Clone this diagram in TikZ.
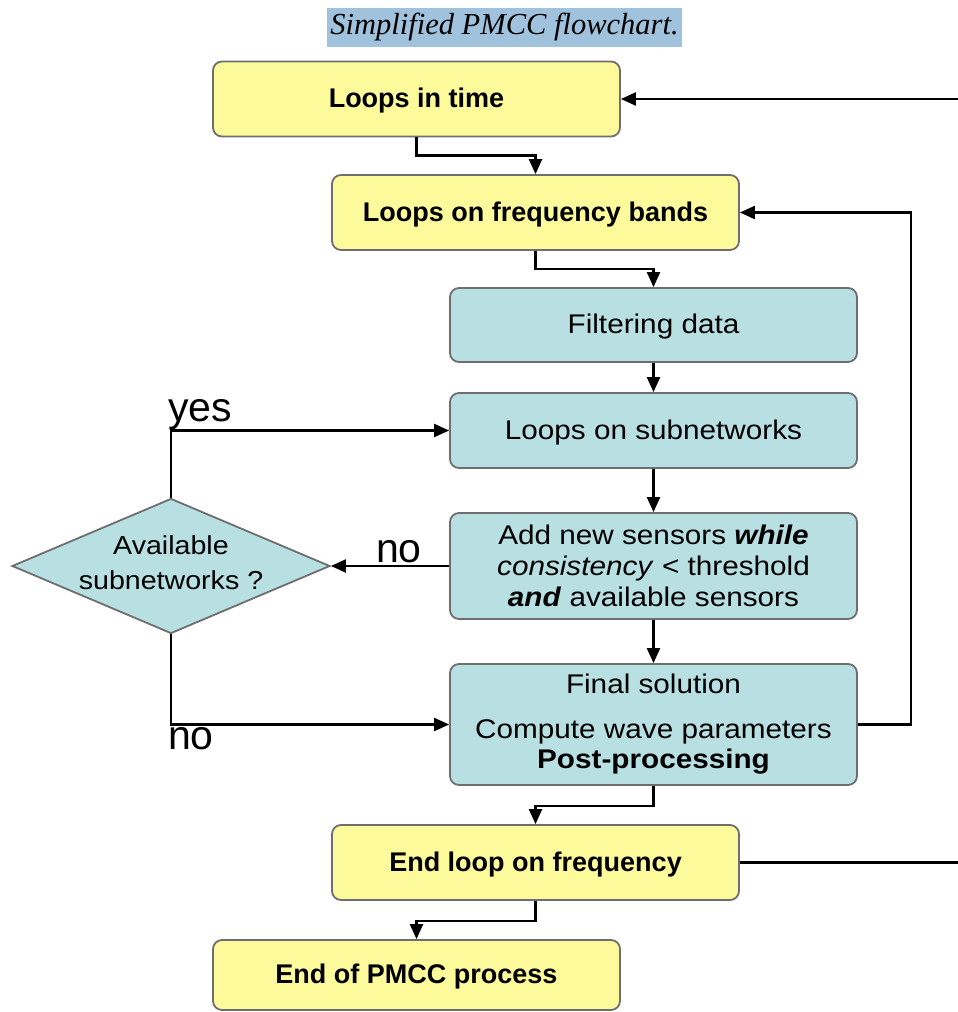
\documentclass[tikz,border=0pt]{standalone}
\usepackage{fontspec}
\setmainfont{Liberation Sans}
\newfontfamily\wideface[FakeStretch=1.1]{Liberation Sans}
\newfontfamily\titleface{Liberation Serif}
\usetikzlibrary{arrows.meta, shapes.geometric}

\definecolor{boxyellow}{HTML}{FCFA9A}
\definecolor{boxteal}{HTML}{B8DFE2}
\definecolor{boxedge}{HTML}{6E6E6E}
\definecolor{titleblue}{HTML}{A0C2DD}

\tikzset{
  yellowbox/.style={rectangle, rounded corners=9pt, draw=boxedge, line width=1.8pt,
    fill=boxyellow, minimum width=407pt, minimum height=75pt, text depth=2pt,
    font=\fontsize{27}{32}\selectfont\bfseries},
  tealbox/.style={rectangle, rounded corners=9pt, draw=boxedge, line width=1.8pt,
    fill=boxteal, minimum width=407pt, align=center,
    font=\wideface\fontsize{27}{32}\selectfont},
  decision/.style={diamond, draw=boxedge, line width=1.8pt, fill=boxteal,
    minimum width=318pt, minimum height=135pt, inner sep=0pt},
  flow/.style={line width=2.2pt, -{Triangle[length=15pt,width=13pt]}},
  plain/.style={line width=2.2pt},
  answer/.style={font=\fontsize{41}{46}\selectfont, inner sep=2pt}
}

\begin{document}
\begin{tikzpicture}[x=1pt, y=-1pt]
% Page frame, pixel coordinates
\useasboundingbox (0,0) rectangle (958,1012);
% Caption
\node[fill=titleblue, minimum width=355pt, minimum height=39pt, inner sep=0pt,
  font=\titleface\itshape\fontsize{30.5}{34}\selectfont] (caption) at (504.5,27.5) {Simplified PMCC flowchart.};
% Outer loops
\node[yellowbox] (time) at (416.5,99) {Loops in time};
\node[yellowbox] (bands) at (535.5,212.5) {Loops on frequency bands};
% Inner steps
\node[tealbox, minimum height=74pt, text depth=2pt] (filter) at (653.5,325) {Filtering data};
\node[tealbox, minimum height=75pt, text depth=2pt] (subnet) at (653.5,430.5) {Loops on subnetworks};
\node[tealbox, minimum height=106pt] (sensors) at (653.5,566) {Add new sensors \textbf{\textit{while}}\\[-1pt] \textit{consistency} {\normalfont\wideface<} threshold\\[-1pt] \textbf{\textit{and}} available sensors};
\node[tealbox, minimum height=121pt] (final) at (653.5,724.5) {Final solution\\[13pt] Compute wave parameters\\[-2pt] \textbf{Post-processing}};
% Decision
\node[decision, label={[font=\wideface\fontsize{26}{35}\selectfont, align=center, yshift=3pt]center:Available\\subnetworks ?}] (avail) at (171,566) {};
% Closing boxes
\node[yellowbox] (endfreq) at (535.5,862.5) {End loop on frequency};
\node[yellowbox, minimum height=70pt] (endproc) at (416.5,975) {End of PMCC process};
% Loose ends at the right edge
\coordinate (timeback) at (958,99);
\coordinate (freqout) at (958,862.5);

% Main flow
\draw[flow] (time.south) -- ++(0,18) -| (bands.north);
\draw[flow] (bands.south) -- ++(0,18) -| (filter.north);
\draw[flow] (filter) -- (subnet);
\draw[flow] (subnet) -- (sensors);
\draw[flow] (sensors) -- (final);
\draw[flow] (final.south) -- ++(0,20) -| (endfreq.north);
\draw[flow] (endfreq.south) -- ++(0,20) -| (endproc.north);
% Decision branches
\draw[flow] (sensors.west) -- node[answer, above, xshift=9pt] (nolabel1) {no} (avail.east);
\draw[flow] (avail.north) |- node[answer, pos=0.5, above right, xshift=-6pt, yshift=-3pt] (yeslabel) {yes} (subnet.west);
\draw[flow] (avail.south) |- node[answer, pos=0.5, below right, xshift=-6pt] (nolabel2) {no} (final.west);
% Back to frequency bands
\draw[flow] (final.east) -- ++(53,0) |- (bands.east);
% Back to time loop, off the page
\draw[plain] (endfreq.east) -- (freqout);
\draw[flow] (timeback) -- (time.east);
\end{tikzpicture}
\end{document}
